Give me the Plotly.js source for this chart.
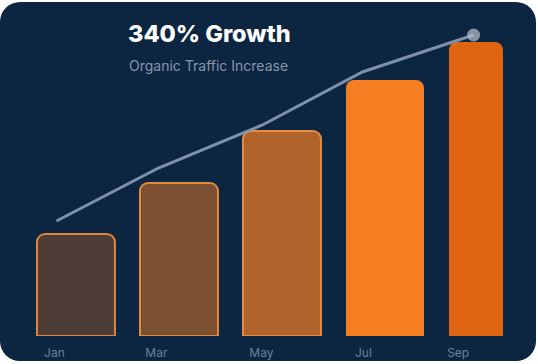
<!DOCTYPE html>
<html>
<head>
<meta charset="utf-8">
<script src="https://cdn.plot.ly/plotly-3.0.1.min.js"></script>
<style>
  html, body { margin: 0; padding: 0; background: #ffffff; width: 538px; height: 364px; overflow: hidden; }
  #card { position: absolute; left: 0; top: 2px; width: 536px; height: 359px; border-radius: 20px; background: #0c2541; }
  #chart { position: absolute; left: 0; top: 0; width: 538px; height: 364px; }
</style>
</head>
<body>
<div id="card"></div>
<div id="chart"></div>
<script>
// Data (in thousand visits)
const months = ["Jan", "Mar", "May", "Jul", "Sep"];
const barIndex = [0, 1, 2, 3, 4];
const barValues = [10.2, 15.3, 20.5, 25.6, 29.4];
const trendX = [-0.19, 0.80, 1.81, 2.78, 3.86];
const trendValues = [11.5, 16.8, 21.1, 26.4, 30.1];
const tickPositions = [-0.21, 0.78, 1.80, 2.79, 3.71];

const barFill = ["#4e3d36", "#7b4f30", "#b0632b", "#f47e20", "#df6512"];
const barLine = ["#df843c", "#e08a40", "#e68c42", "#f47e20", "#df6512"];
const barLineW = [2, 2, 2, 0, 0];
const barWidths = [0.757, 0.757, 0.757, 0.757, 0.524];
const barOffsets = [-0.379, -0.379, -0.379, -0.379, -0.379];

const traces = [
  {
    type: "bar",
    x: barIndex,
    y: barValues,
    width: barWidths,
    offset: barOffsets,
    marker: { color: barFill, line: { color: barLine, width: barLineW } },
    hoverinfo: "skip"
  },
  {
    type: "scatter",
    mode: "lines+markers",
    x: trendX,
    y: trendValues,
    line: { color: "#8497ad", width: 3 },
    marker: { size: [0, 0, 0, 0, 13], color: "#c3cad4", line: { width: 0 } },
    opacity: 0.95,
    hoverinfo: "skip"
  }
];

const layout = {
  width: 538,
  height: 364,
  margin: { l: 0, r: 0, t: 0, b: 28, pad: 0 },
  paper_bgcolor: "rgba(0,0,0,0)",
  plot_bgcolor: "rgba(0,0,0,0)",
  showlegend: false,
  barcornerradius: 8,
  xaxis: {
    range: [-0.738, 4.485],
    tickmode: "array",
    tickvals: tickPositions,
    ticktext: months,
    showgrid: false,
    zeroline: false,
    showline: false,
    ticks: "",
    ticklabelstandoff: 8,
    tickfont: { family: "Inter, 'Noto Sans', sans-serif", size: 12, color: "#6c8098" },
    fixedrange: true
  },
  yaxis: {
    range: [0, 33.6],
    visible: false,
    fixedrange: true
  },
  annotations: [
    {
      text: "340% Growth",
      xref: "paper", yref: "paper",
      x: 126 / 538, y: (336 - 34) / 336,
      xanchor: "left", yanchor: "middle",
      showarrow: false,
      font: { family: "Inter, 'Noto Sans', sans-serif", size: 23.5, weight: 800, color: "#ffffff" }
    },
    {
      text: "Organic Traffic Increase",
      xref: "paper", yref: "paper",
      x: 127 / 538, y: (336 - 65) / 336,
      xanchor: "left", yanchor: "middle",
      showarrow: false,
      font: { family: "Inter, 'Noto Sans', sans-serif", size: 14, color: "#8797ac" }
    }
  ]
};

Plotly.newPlot("chart", traces, layout, { displayModeBar: false, staticPlot: true });
</script>
</body>
</html>
